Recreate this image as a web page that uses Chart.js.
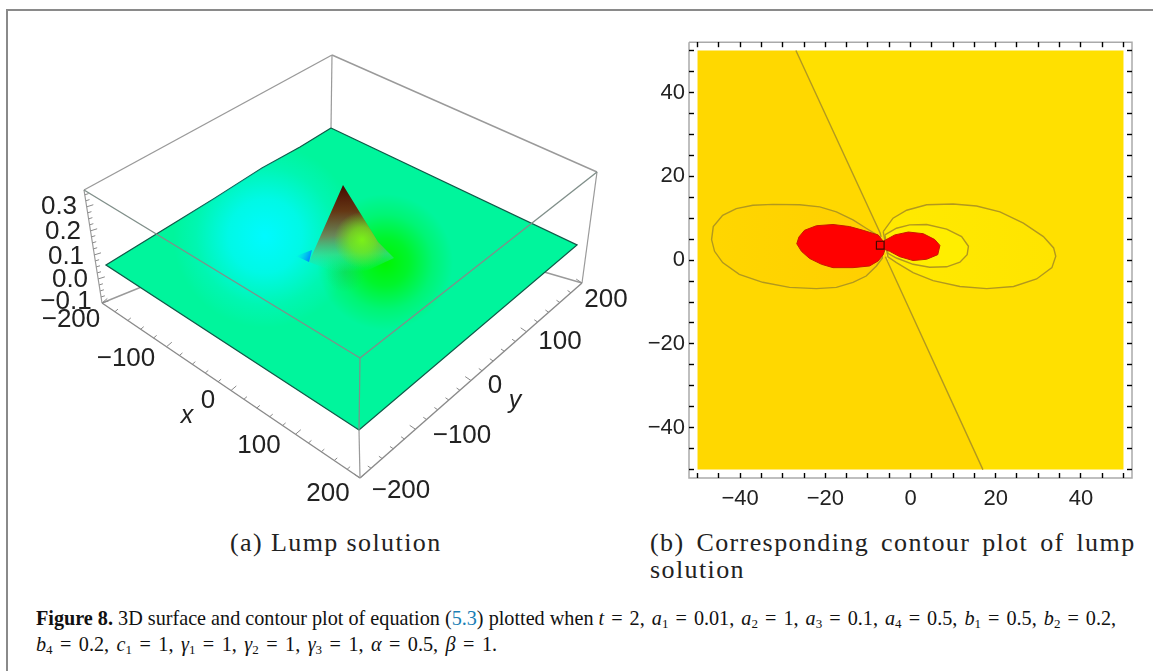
<!DOCTYPE html>
<html><head><meta charset="utf-8">
<script src="https://cdn.jsdelivr.net/npm/chart.js@4"></script>
<style>
html,body{margin:0;padding:0;background:#fff;width:1153px;height:671px;overflow:hidden}
canvas{position:absolute;display:block}
#frameT{position:absolute;left:6px;top:9px;width:1147px;height:2px;background:#8a8a8a}
#frameL{position:absolute;left:6px;top:9px;width:2px;height:662px;background:#8a8a8a}
.sub{position:absolute;font-family:"Liberation Serif",serif;color:#222;white-space:nowrap;font-size:26px}
.cap{position:absolute;font-family:"Liberation Serif",serif;color:#111;white-space:nowrap;font-size:20.2px;left:36px}
.cap i{font-style:italic}.cap sub{font-size:13px;line-height:0;vertical-align:-3px}
.cap span{color:#1b7fb5}.cap em{font-style:normal;word-spacing:2px}
</style></head><body>
<div id="frameT"></div><div id="frameL"></div>
<canvas id="surf" width="650" height="520" style="left:0;top:0"></canvas>
<canvas id="cont" width="513" height="490" style="left:640px;top:20px"></canvas>
<div class="sub" style="left:230px;top:528px;letter-spacing:1.4px">(a) Lump solution</div>
<div class="sub" style="left:650px;top:528px;letter-spacing:1.4px;word-spacing:4px">(b) Corresponding contour plot of lump</div>
<div class="sub" style="left:650px;top:555px;letter-spacing:1.4px">solution</div>
<div class="cap" style="top:607px"><b>Figure 8.</b> 3D surface and contour plot of equation (<span>5.3</span>) plotted when <em><i>t</i> = 2, <i>a</i><sub>1</sub> = 0.01, <i>a</i><sub>2</sub> = 1, <i>a</i><sub>3</sub> = 0.1, <i>a</i><sub>4</sub> = 0.5, <i>b</i><sub>1</sub> = 0.5, <i>b</i><sub>2</sub> = 0.2,</em></div>
<div class="cap" style="top:633px"><em style="word-spacing:2.4px"><i>b</i><sub>4</sub> = 0.2, <i>c</i><sub>1</sub> = 1, <i>γ</i><sub>1</sub> = 1, <i>γ</i><sub>2</sub> = 1, <i>γ</i><sub>3</sub> = 1, <i>α</i> = 0.5, <i>β</i> = 1.</em></div>
<script>
// ---------- contour panel data (x, y in plot units) ----------
const contourTicks=[-50,-45,-40,-35,-30,-25,-20,-15,-10,-5,0,5,10,15,20,25,30,35,40,45,50];
const contourLabels=[-40,-20,0,20,40];
const plotFrame=[[-52,52],[52,52],[52,-52],[-52,-52]];
const zeroLineUpper=[[-26.9,50],[-7.1,6.4],[-6.9,5.4]];
const zeroLineLower=[[-5.9,0.8],[-4.9,-1.4],[17,-50]];
const regionLeft=[[-50,50],[-26.9,50],[-7.1,6.4],[-4.9,-1.4],[17,-50],[-50,-50]];
const regionRight=[[-26.9,50],[50,50],[50,-50],[17,-50],[-4.9,-1.4],[-7.1,6.4]];
const outerLeftLobe=[[-7.5,5.8],[-10.4,7.6],[-13.5,9.6],[-17.4,11.5],[-21.3,12.7],[-26,13.2],[-32.3,13.3],[-37,13.1],[-40.9,12.3],[-44.1,10.7],[-46.3,8],[-46.7,4.9],[-46,2.1],[-44.1,-0.6],[-40.2,-3.4],[-34.7,-5.3],[-28.4,-6.5],[-22.1,-6.8],[-17.4,-6.5],[-13.5,-5.3],[-10.4,-3.8],[-8,-1.4],[-6.6,0.5]];
const outerRightLobe=[[-6.4,6.8],[-4.1,10],[-0.9,11.9],[3.8,13.2],[10,13.4],[15.5,12.9],[21,11.5],[26.5,8.8],[31.2,5.6],[33.6,2.9],[34.1,0.9],[33.2,-1.8],[29.6,-4.5],[24.2,-6.3],[17.9,-6.8],[11.6,-6.3],[5.3,-4.9],[0.6,-3],[-3.3,-0.6],[-5.3,0.8]];
const innerRightLobe=[[-6,6],[-3.3,7.6],[-0.2,8.4],[3.8,8.5],[8.5,7.4],[12,5.6],[13.6,3.3],[13.3,1.3],[11.6,-0.5],[8.5,-1.6],[4.5,-1.7],[0.6,-1],[-3.3,0.5],[-5.3,1.6]];
const redLeftLobe=[[-7.6,6],[-11.1,7.1],[-14.3,8],[-18.2,8.5],[-22.1,8.2],[-24.9,7.1],[-26.2,5.5],[-26.7,3.9],[-25.6,2.1],[-23.7,0.4],[-20.9,-1],[-18.2,-1.8],[-13.5,-1.8],[-9.6,-1.4],[-7.6,-0.2],[-6.4,1.3],[-6,2.5],[-6.4,4.5]];
const redRightLobe=[[-6.4,4.5],[-3.7,6],[-0.5,6.7],[3,6.3],[5.7,4.9],[6.9,3.5],[6.4,1.3],[3.8,0.2],[0.6,-0.1],[-2.5,0.8],[-4.9,2.1],[-6.4,2.7]];
const centreCell=[[-8,4.5],[-6.2,4.5],[-6.2,2.6],[-8,2.6]];
// ---------- 3D panel data (projected picture coordinates) ----------
const boxTop=[[332,55],[597,172],[360,358],[84,190]];
const boxLeftBottom=[102,303],boxFrontBottom=[360,478],boxRightBottom=[582,283];
const boxBack=[331,210];
const surfaceOutline=[[331,128],[577,245],[359,430],[106,265],[215,198],[262,168],[300,147]];
const glowCyan=[265,236,92],glowGreen=[385,262,68],glowDark=[345,272,20],glowLime=[362,240,28];
const peakApex=[343,185],peakLeft=[309,262],peakBase=[335,272],peakShoulder=[378,242];
const peakFoot=[[394,258],[364,272]];
const peakShadeEnd=[345,272];
const blueTip=[[296,256],[309,262],[312,250]];
const xAxisTicks=[-200,-180,-160,-140,-120,-100,-80,-60,-40,-20,0,20,40,60,80,100,120,140,160,180,200];
const yAxisTicks=xAxisTicks;
const zAxisTicks=[0.35,0.325,0.3,0.275,0.25,0.225,0.2,0.175,0.15,0.125,0.1,0.075,0.05,0.025,0,-0.025,-0.05,-0.075,-0.1];
const labels3D=[["0.3",59,207],["0.2",63,232],["0.1",66,257],["0.0",70,280],["−0.1",66,302],["−200",71,320],["−100",126,359],["0",208,401],["100",259,446],["200",328,494],["−200",401,491],["−100",462,436],["0",495,386],["100",560,342],["200",606,300]];
const axisNames3D=[["x",187,416],["y",515,401]];

const toXY=a=>a.map(p=>({x:p[0],y:p[1]}));
const closed=a=>toXY(a.concat([a[0]]));
Chart.defaults.animation=false;
Chart.defaults.font.family='"Liberation Sans",Arial,sans-serif';
const ready=(...v)=>v.every(Number.isFinite);

// ---------- contour chart ----------
function fillSet(pts,color,line,lw){return{data:closed(pts),showLine:true,pointRadius:0,fill:'shape',backgroundColor:color,borderColor:line||'rgba(0,0,0,0)',borderWidth:lw===undefined?(line?1.4:0):lw,clip:false,tension:0}}
function lineSet(pts,color,lw){return{data:toXY(pts),showLine:true,pointRadius:0,fill:false,borderColor:color,borderWidth:lw,clip:false}}
const contourLine='rgb(178,152,30)';
const hGrad=(c0,c1,a,b)=>ctx=>{const s=ctx.chart.scales;if(!s||!s.x)return c0;const A=s.x.getPixelForValue(a),B=s.x.getPixelForValue(b);if(!ready(A,B))return c0;const g=ctx.chart.ctx.createLinearGradient(A,0,B,0);g.addColorStop(0,c0);g.addColorStop(1,c1);return g};
const contourSets=[
 lineSet(plotFrame.concat([plotFrame[0]]),'#aaaaaa',1.5),
 fillSet(regionLeft,'#ffd800'),
 fillSet(regionRight,'#ffe000'),
 lineSet(zeroLineUpper,contourLine,1.4),
 lineSet(zeroLineLower,contourLine,1.4),
 fillSet(outerLeftLobe,hGrad('#ffd600','#ffd000',-46,-12),contourLine),
 fillSet(outerRightLobe,hGrad('#ffe900','#ffe400',0,34),contourLine),
 fillSet(innerRightLobe,'#ffee00',contourLine),
 fillSet(redLeftLobe,'#ff0000','#c81800',1),
 fillSet(redRightLobe,'#ff0000','#c81800',1),
 fillSet(centreCell,'#ff0000','#400800',1.2)
];
contourSets.forEach((d,i)=>d.order=contourSets.length-i);
const fmt=v=>contourLabels.includes(v)?String(v).replace('-','−'):'';
function contourAxis(axis,position,size,labelled,pad){
 return{type:'linear',axis,position,min:-52,max:52,
  afterBuildTicks:s=>{s.ticks=contourTicks.map(v=>({value:v}))},
  afterFit:s=>{if(axis==='x')s.height=size;else s.width=size},
  grid:{drawOnChartArea:false,tickLength:-5,tickColor:'#000',tickWidth:1.4,z:1},
  border:{display:false},
  ticks:{display:labelled,autoSkip:false,maxRotation:0,padding:pad,color:'#222',font:{size:22},callback:fmt}};
}
new Chart(document.getElementById('cont'),{type:'scatter',data:{datasets:contourSets},options:{
 responsive:false,plugins:{legend:{display:false},tooltip:{enabled:false}},layout:{padding:0},
 scales:{x:contourAxis('x','bottom',32,true,13),x2:contourAxis('x','top',16,false,0),y:contourAxis('y','left',49,true,9),y2:contourAxis('y','right',21,false,0)}}});

// ---------- 3D chart ----------
const along=(a,b,t)=>[a[0]+(b[0]-a[0])*t,a[1]+(b[1]-a[1])*t];
function tickSet(vals,lo,hi,a,b,dir,isMajor,minorLen,majorLen){
 const out=[];
 vals.forEach(v=>{const p=along(a,b,(v-lo)/(hi-lo));const L=isMajor(v)?majorLen:minorLen;
  out.push({x:p[0],y:p[1]},{x:p[0]+dir[0]*L,y:p[1]+dir[1]*L},{x:NaN,y:NaN});});
 return{data:out,showLine:true,spanGaps:false,pointRadius:0,borderColor:'#8a8a8a',borderWidth:1,fill:false,clip:false};
}
const boxGrey='#9a9a9a';
const radial=(g,stops)=>ctx=>{const s=ctx.chart.scales;const none='rgba(0,0,0,0)';if(!s||!s.x)return none;
 const X=s.x.getPixelForValue(g[0]),Y=s.y.getPixelForValue(g[1]);if(!ready(X,Y))return none;
 const r=ctx.chart.ctx.createRadialGradient(X,Y,0,X,Y,g[2]);stops.forEach(t=>r.addColorStop(t[0],t[1]));return r};
const linear=(a,b,stops)=>ctx=>{const s=ctx.chart.scales;if(!s||!s.x)return stops[0][1];
 const A=s.x.getPixelForValue(a[0]),B=s.y.getPixelForValue(a[1]),C=s.x.getPixelForValue(b[0]),D=s.y.getPixelForValue(b[1]);if(!ready(A,B,C,D))return stops[0][1];
 const r=ctx.chart.ctx.createLinearGradient(A,B,C,D);
 stops.forEach(t=>r.addColorStop(t[0],t[1]));return r};
const peakOutline=[peakApex,peakShoulder,peakFoot[0],peakFoot[1],peakBase,peakLeft];
const surfaceSets=[
 lineSet([boxTop[0],boxTop[1]],boxGrey,1.4),
 lineSet([boxTop[3],boxTop[0]],boxGrey,1.4),
 lineSet([boxTop[0],[331,128]],boxGrey,1.2),
 lineSet([boxLeftBottom,boxBack],boxGrey,1.4),
 lineSet([boxRightBottom,boxBack],boxGrey,1.4),
 lineSet([boxTop[3],boxLeftBottom],boxGrey,1.2),
 lineSet([boxTop[1],boxRightBottom],boxGrey,1.2),
 lineSet([boxLeftBottom,boxFrontBottom],'#8a8a8a',1.4),
 lineSet([boxRightBottom,boxFrontBottom],'#8a8a8a',1.4),
 tickSet(xAxisTicks,-200,200,boxLeftBottom,boxFrontBottom,[0.76,-0.65],v=>v%100===0,4,7),
 tickSet(yAxisTicks,-200,200,boxFrontBottom,boxRightBottom,[-0.83,-0.56],v=>v%100===0,4,7),
 tickSet(zAxisTicks,-0.1,0.37,boxLeftBottom,boxTop[3],[0.95,-0.3],v=>Math.abs(v*10-Math.round(v*10))<1e-6,4,7),
 fillSet(surfaceOutline,'#00f59c','#0f5a48',1.3),
 fillSet(surfaceOutline,radial(glowCyan,[[0,'rgba(0,250,255,1)'],[0.4,'rgba(0,250,255,0.75)'],[0.75,'rgba(0,250,255,0.22)'],[1,'rgba(0,250,255,0)']])),
 fillSet(surfaceOutline,radial(glowGreen,[[0,'rgba(0,245,0,1)'],[0.35,'rgba(0,245,0,0.72)'],[0.7,'rgba(0,245,0,0.25)'],[1,'rgba(0,245,0,0)']])),
 fillSet(surfaceOutline,radial(glowDark,[[0,'rgba(30,190,80,0.35)'],[1,'rgba(30,190,80,0)']])),
 fillSet(peakOutline,linear(peakApex,peakShadeEnd,[[0,'rgba(70,10,0,1)'],[0.3,'rgba(100,55,20,1)'],[0.58,'rgba(105,135,90,1)'],[0.8,'rgba(60,215,140,0.72)'],[1,'rgba(20,240,170,0)']])),
 fillSet(peakOutline,radial(glowLime,[[0,'rgba(125,245,20,0.95)'],[0.45,'rgba(120,235,20,0.7)'],[1,'rgba(110,225,20,0)']])),
 fillSet(blueTip,linear(blueTip[0],blueTip[1],[[0,'rgba(0,200,255,0)'],[1,'rgba(0,130,255,1)']])),
 lineSet([boxTop[3],boxTop[2]],'#808f8a',1.4),
 lineSet([boxTop[2],boxTop[1]],'#808f8a',1.4),
 lineSet([boxTop[2],[359,430]],'#808f8a',1.2),
 lineSet([[359,430],boxFrontBottom],'#9a9a9a',1.2)
];
surfaceSets.forEach((d,i)=>d.order=surfaceSets.length-i);
const labelPlugin={id:'labels3d',afterDatasetsDraw(c){
 const g=c.ctx,s=c.scales;g.save();g.textAlign='center';g.textBaseline='middle';g.fillStyle='#222';
 g.font='26px "Liberation Sans",Arial,sans-serif';
 labels3D.forEach(l=>g.fillText(l[0],s.x.getPixelForValue(l[1]),s.y.getPixelForValue(l[2])));
 g.font='italic 25px "Liberation Sans",Arial,sans-serif';
 axisNames3D.forEach(l=>g.fillText(l[0],s.x.getPixelForValue(l[1]),s.y.getPixelForValue(l[2])));
 g.restore();}};
new Chart(document.getElementById('surf'),{type:'scatter',data:{datasets:surfaceSets},plugins:[labelPlugin],options:{
 responsive:false,plugins:{legend:{display:false},tooltip:{enabled:false}},layout:{padding:0},
 scales:{x:{type:'linear',min:0,max:650,display:false},y:{type:'linear',min:0,max:520,reverse:true,display:false}}}});
</script></body></html>
